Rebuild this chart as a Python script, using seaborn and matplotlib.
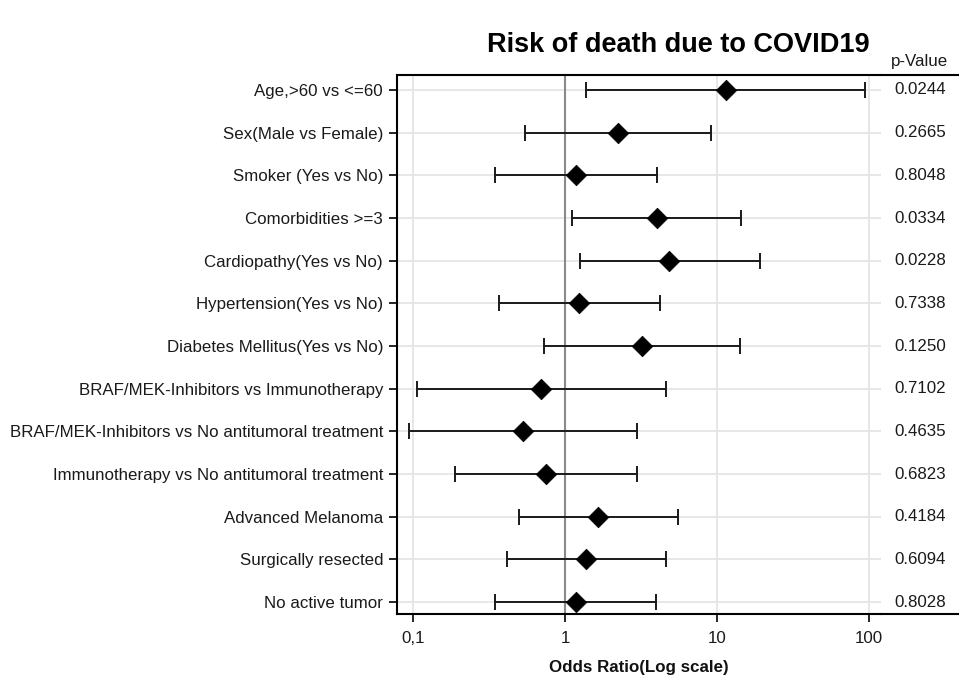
import numpy as np
import pandas as pd
import matplotlib
matplotlib.use('Agg')
import matplotlib.pyplot as plt
import seaborn as sns

# Odds ratios with 95% CI
labels = ['Age,>60 vs <=60', 'Sex(Male vs Female)', 'Smoker (Yes vs No)',
          'Comorbidities >=3', 'Cardiopathy(Yes vs No)', 'Hypertension(Yes vs No)',
          'Diabetes Mellitus(Yes vs No)', 'BRAF/MEK-Inhibitors vs Immunotherapy',
          'BRAF/MEK-Inhibitors vs No antitumoral treatment',
          'Immunotherapy vs No antitumoral treatment', 'Advanced Melanoma',
          'Surgically resected', 'No active tumor']
odds_ratio = [11.4, 2.23, 1.18, 4.05, 4.86, 1.23, 3.23, 0.70, 0.533, 0.755, 1.64, 1.38, 1.18]
ci_lower = [1.38, 0.546, 0.347, 1.11, 1.25, 0.369, 0.731, 0.107, 0.094, 0.19, 0.497, 0.414, 0.349]
ci_upper = [94.0, 9.16, 4.01, 14.4, 19.3, 4.19, 14.2, 4.62, 2.98, 2.99, 5.58, 4.6, 3.96]
p_values = ['0.0244', '0.2665', '0.8048', '0.0334', '0.0228', '0.7338', '0.1250',
            '0.7102', '0.4635', '0.6823', '0.4184', '0.6094', '0.8028']
x_ticks = [0.1, 1, 10, 100]
x_tick_labels = ['0,1', '1', '10', '100']

df = pd.DataFrame({'label': labels, 'or': odds_ratio, 'lo': ci_lower,
                   'hi': ci_upper, 'p': p_values})
df['pos'] = np.arange(len(df))

sns.set_theme(style='white')
plt.rcParams['font.family'] = ['Liberation Sans', 'DejaVu Sans']
plt.rcParams['text.color'] = '#111111'

fs = 12.2
txt = '#1a1a1a'

fig = plt.figure(figsize=(9.59, 6.82), dpi=100)
ax = fig.add_axes([397 / 959, 1 - 614 / 682, 484 / 959, (614 - 74.5) / 682])
axp = fig.add_axes([881 / 959, 1 - 614 / 682, 78 / 959, (614 - 74.5) / 682], sharey=ax)

ax.set_xscale('log')
ax.set_xlim(0.0785, 120)
ax.set_ylim(12.28, -0.363)

# grid
for t in x_ticks:
    ax.axvline(t, color='#e5e5e5', lw=1.3, zorder=0)
for y in df['pos']:
    ax.axhline(y, color='#e5e5e5', lw=1.3, zorder=0)
ax.axvline(1, color='#8a8a8a', lw=1.5, zorder=1)

# confidence intervals
ax.errorbar(df['or'], df['pos'],
            xerr=[df['or'] - df['lo'], df['hi'] - df['or']],
            fmt='none', ecolor='#1a1a1a', elinewidth=1.4, capsize=6, capthick=1.4, zorder=2)
sns.scatterplot(data=df, x='or', y='pos', marker='D', s=110, color='black',
                edgecolor='black', linewidth=0.5, ax=ax, zorder=3, legend=False)

ax.set_yticks(df['pos'])
ax.set_yticklabels(df['label'], fontsize=fs, color=txt)
ax.set_xticks(x_ticks)
ax.set_xticklabels(x_tick_labels, fontsize=fs, color=txt)
ax.xaxis.set_minor_locator(matplotlib.ticker.NullLocator())
ax.tick_params(axis='both', which='major', length=6, width=1.2, color='black',
               direction='out', bottom=True, left=True)
ax.tick_params(axis='x', pad=6)
ax.tick_params(axis='y', pad=4)
ax.set_xlabel('Odds Ratio(Log scale)', fontsize=fs, fontweight='bold', labelpad=10, color='#111111')
ax.set_ylabel('')
for side in ['left', 'bottom', 'top']:
    ax.spines[side].set_color('black')
    ax.spines[side].set_linewidth(1.5)
ax.spines['right'].set_visible(False)

# p-value column
axp.set_xlim(0, 1)
for y, p in zip(df['pos'], df['p']):
    axp.text(0.5, y, p, ha='center', va='center', fontsize=fs, color=txt)
axp.annotate('p-Value', xy=(0.5, 1), xycoords='axes fraction', xytext=(0, 4),
             textcoords='offset points', ha='center', va='bottom', fontsize=fs, color=txt)
axp.tick_params(left=False, bottom=False, labelleft=False, labelbottom=False)
for side in ['left', 'right']:
    axp.spines[side].set_visible(False)
for side in ['top', 'bottom']:
    axp.spines[side].set_color('black')
    axp.spines[side].set_linewidth(1.5)

fig.suptitle('Risk of death due to COVID19', x=678 / 959, y=1 - 32 / 682,
             va='top', fontsize=19.5, fontweight='bold', color='black')

fig.savefig('out.png', dpi=100)
